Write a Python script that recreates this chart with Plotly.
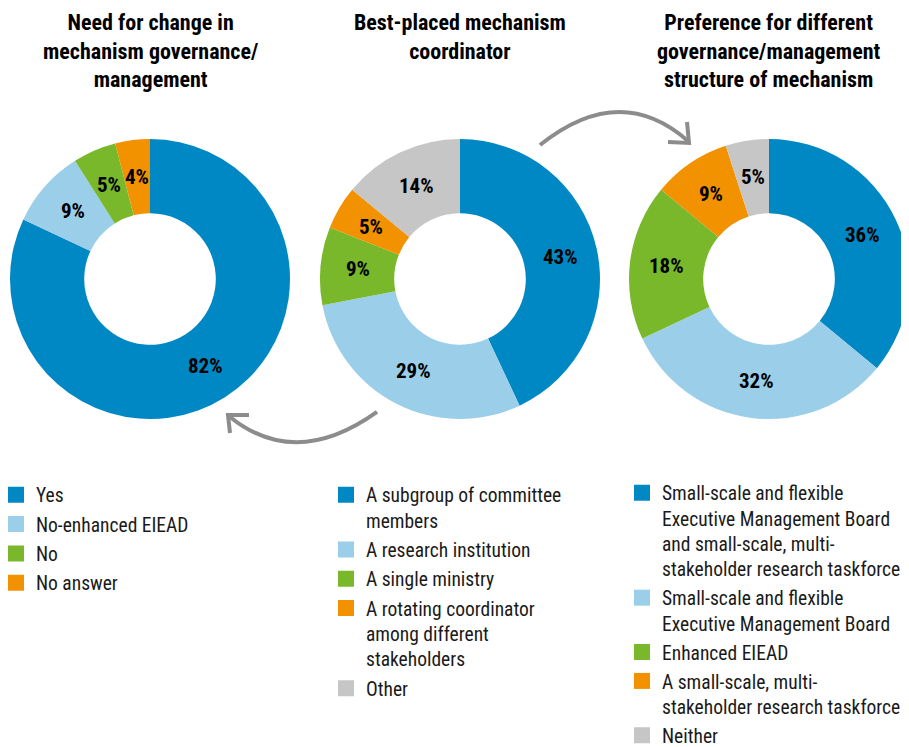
import math
import plotly.graph_objects as go

# The page places the figure 8px from the top-left corner, so the figure is
# sized to fill the remaining window and reference pixels are offset by 8.
OFF = 8
FW, FH = 901, 739
FONT = "Liberation Sans Narrow, Roboto Condensed, Arial Narrow, Roboto, sans-serif"

titles = [
    "Need for change in<br>mechanism governance/<br>management",
    "Best-placed mechanism<br>coordinator",
    "Preference for different<br>governance/management<br>structure of mechanism",
]

colors = ["#0088C4", "#9BCEE9", "#78B82A", "#F39200", "#C6C6C6"]

labels1 = ["Yes", "No-enhanced EIEAD", "No", "No answer"]
values1 = [82, 9, 5, 4]

labels2 = ["A subgroup of committee<br>members", "A research institution",
           "A single ministry", "A rotating coordinator<br>among different<br>stakeholders",
           "Other"]
values2 = [43, 29, 9, 5, 14]

labels3 = ["Small-scale and flexible<br>Executive Management Board<br>and small-scale, multi-<br>stakeholder research taskforce",
           "Small-scale and flexible<br>Executive Management Board",
           "Enhanced EIEAD",
           "A small-scale, multi-<br>stakeholder research taskforce",
           "Neither"]
values3 = [36, 32, 18, 9, 5]

datasets = [(labels1, values1), (labels2, values2), (labels3, values3)]

# layout geometry (page pixels)
centers = [(150, 279), (460, 279), (769, 279)]
R = 140
HOLE = 0.47
legend_sq = [16, 346, 642]
legend_top = 475.5


def px(X):
    return (X - OFF) / FW


def py(Y):
    return 1 - (Y - OFF) / FH


fig = go.Figure()

for k, ((labs, vals), (cx, cy)) in enumerate(zip(datasets, centers)):
    fig.add_trace(go.Pie(
        labels=labs, values=vals, sort=False, direction="clockwise", rotation=0,
        hole=HOLE,
        marker=dict(colors=colors[:len(vals)], line=dict(width=0)),
        textinfo="none",
        showlegend=False, hoverinfo="label+percent",
        domain=dict(x=[max(px(cx - R), 0), min(px(cx + R), 1)],
                    y=[py(cy + R), py(cy - R)]),
    ))
    # percentage labels at the middle of each ring segment
    total = sum(vals)
    rm = R * (1 + HOLE) / 2
    cum = 0
    for v in vals:
        theta = 2 * math.pi * (cum + v / 2) / total
        fig.add_annotation(
            x=px(cx + rm * math.sin(theta)), y=py(cy - rm * math.cos(theta)),
            xref="paper", yref="paper", xanchor="center", yanchor="middle",
            showarrow=False, text=f"<b>{v}%</b>",
            font=dict(size=21, color="black", family=FONT),
        )
        cum += v
    lname = "legend" if k == 0 else f"legend{k + 1}"
    for i, lab in enumerate(labs):
        fig.add_trace(go.Scatter(
            x=[None], y=[None], mode="markers",
            marker=dict(symbol="square", size=16, color=colors[i]),
            name=lab, legend=lname, legendgroup=f"g{k}_{i}", showlegend=True,
        ))

for k, (t, (cx, cy)) in enumerate(zip(titles, centers)):
    fig.add_annotation(
        x=px(cx), y=1.0, xref="paper", yref="paper",
        xanchor="center", yanchor="top", showarrow=False,
        text=f"<b>{t}</b>", align="center",
        font=dict(size=22, color="black", family=FONT),
    )


def P(x, y):
    return f"{px(x):.5f},{py(y):.5f}"


ARROW = dict(color="#8C8C8C", width=4)
shapes = [
    dict(type="path", xref="paper", yref="paper", line=ARROW,
         path=f"M{P(540,145)} Q{P(620,81)} {P(688,141)}"),
    dict(type="path", xref="paper", yref="paper", line=ARROW,
         path=f"M{P(668,142)} L{P(689,143)} L{P(687,122)}"),
    dict(type="path", xref="paper", yref="paper", line=ARROW,
         path=f"M{P(377,412)} Q{P(296,470)} {P(230,417)}"),
    dict(type="path", xref="paper", yref="paper", line=ARROW,
         path=f"M{P(249,415)} L{P(228,415)} L{P(230,433)}"),
]

leg_common = dict(xanchor="left", yanchor="top", xref="paper", yref="paper",
                  font=dict(size=19.5, color="#1a1a1a", family=FONT),
                  valign="top", bgcolor="rgba(0,0,0,0)",
                  itemclick=False, itemdoubleclick=False)

fig.update_layout(
    width=FW, height=FH, margin=dict(l=0, r=0, t=0, b=0, autoexpand=False),
    paper_bgcolor="white", plot_bgcolor="white",
    xaxis=dict(visible=False), yaxis=dict(visible=False),
    shapes=shapes,
    legend=dict(x=px(legend_sq[0] - 20), y=py(legend_top), tracegroupgap=1, **leg_common),
    legend2=dict(x=px(legend_sq[1] - 20), y=py(legend_top), tracegroupgap=1, **leg_common),
    legend3=dict(x=px(legend_sq[2] - 20), y=py(legend_top - 2), tracegroupgap=0.6, **leg_common),
    font=dict(family=FONT),
)

fig.write_html("out.html")
